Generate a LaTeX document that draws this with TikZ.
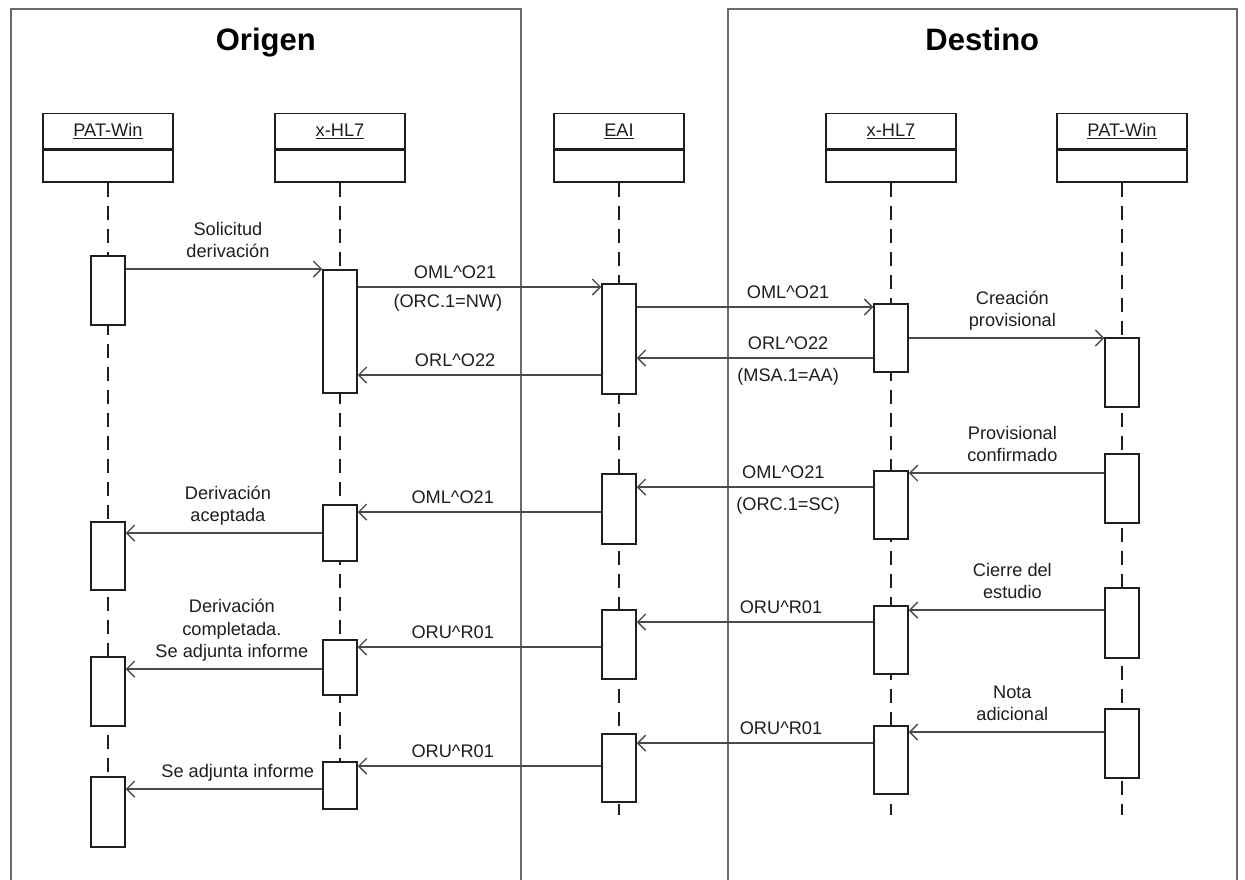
\documentclass[tikz,border=0pt]{standalone}
\usepackage{fontspec}
\setmainfont{Liberation Sans}
\usetikzlibrary{positioning,arrows.meta,backgrounds}
\definecolor{ink}{HTML}{1E1E1E}
\definecolor{wire}{HTML}{4A4A4A}
\definecolor{edge}{HTML}{6A6A6A}
\newcommand{\lbl}{\fontsize{18.2}{22.5}\selectfont}
\tikzset{
  zone/.style={draw=edge, line width=1.6pt, anchor=north west, inner sep=0pt, minimum height=900pt},
  ztitle/.style={font=\fontsize{31}{36}\selectfont\bfseries, text=black, anchor=base, inner sep=0pt},
  objtop/.style={draw=ink, line width=1.3pt, minimum width=130pt, minimum height=35pt, inner sep=0pt,
                 font=\lbl, text=ink, anchor=north},
  objbot/.style={draw=ink, line width=1.3pt, minimum width=130pt, minimum height=32pt, inner sep=0pt},
  act/.style={draw=ink, line width=1.5pt, fill=white, minimum width=34pt, inner sep=0pt, anchor=north},
  life/.style={draw=ink, line width=1.3pt, dash pattern=on 14pt off 9pt},
  msg/.style={draw=wire, line width=1.4pt, -{Straight Barb[length=8pt,width=16pt]}},
  txt/.style={font=\lbl, text=ink, align=center, inner sep=0pt, text depth=0pt},
}

\begin{document}
\begin{tikzpicture}[x=1pt,y=-1pt]
\useasboundingbox (0,0) rectangle (1245,879);
% frames
\node[zone, minimum width=510pt] (origen) at (10,8) {};
\node[zone, minimum width=509pt] (destino) at (727,8) {};
\node[ztitle] (torig) at ([yshift=-42pt]origen.north) {Origen};
\node[ztitle] (tdest) at ([yshift=-42pt]destino.north) {Destino};
% lifeline heads
\node[objtop] (opw) at (108,113) {\underline{PAT-Win}};
\node[objbot, below=0pt of opw] (opwb) {};
\node[objtop] (ohl) at (340,113) {\underline{x-HL7}};
\node[objbot, below=0pt of ohl] (ohlb) {};
\node[objtop] (eai) at (619,113) {\underline{EAI}};
\node[objbot, below=0pt of eai] (eaib) {};
\node[objtop] (dhl) at (891,113) {\underline{x-HL7}};
\node[objbot, below=0pt of dhl] (dhlb) {};
\node[objtop] (dpw) at (1122,113) {\underline{PAT-Win}};
\node[objbot, below=0pt of dpw] (dpwb) {};
% activations
\node[act, minimum height=69pt] (opw1) at (108,255) {};
\node[act, minimum height=68pt] (opw2) at (108,521) {};
\node[act, minimum height=69pt] (opw3) at (108,656) {};
\node[act, minimum height=70pt] (opw4) at (108,776) {};
\node[act, minimum height=123pt] (ohl1) at (340,269) {};
\node[act, minimum height=56pt] (ohl2) at (340,504) {};
\node[act, minimum height=55pt] (ohl3) at (340,639) {};
\node[act, minimum height=47pt] (ohl4) at (340,761) {};
\node[act, minimum height=110pt] (eai1) at (619,283) {};
\node[act, minimum height=70pt] (eai2) at (619,473) {};
\node[act, minimum height=69pt] (eai3) at (619,609) {};
\node[act, minimum height=68pt] (eai4) at (619,733) {};
\node[act, minimum height=68pt] (dhl1) at (891,303) {};
\node[act, minimum height=68pt] (dhl2) at (891,470) {};
\node[act, minimum height=68pt] (dhl3) at (891,605) {};
\node[act, minimum height=68pt] (dhl4) at (891,725) {};
\node[act, minimum height=69pt] (dpw1) at (1122,337) {};
\node[act, minimum height=69pt] (dpw2) at (1122,453) {};
\node[act, minimum height=70pt] (dpw3) at (1122,587) {};
\node[act, minimum height=69pt] (dpw4) at (1122,708) {};
\coordinate (eaiend) at (619,815);
\coordinate (dhlend) at (891,815);
\coordinate (dpwend) at (1122,815);
\begin{scope}[on background layer]
  \draw[life] (opwb.south) -- (opw4.south);
  \draw[life] (ohlb.south) -- (ohl4.south);
  \draw[life] (eaib.south) -- (eaiend);
  \draw[life] (dhlb.south) -- (dhlend);
  \draw[life] (dpwb.south) -- (dpwend);
\end{scope}
% request
\draw[msg] ([yshift=-14pt]opw1.north east) coordinate (m1) -- node[txt, above=10.5pt, pos=0.52] {Solicitud\\derivación} (m1 -| ohl1.west);
\draw[msg] ([yshift=-18pt]ohl1.north east) coordinate (m2) -- node[txt, above=8pt, pos=0.40] {OML\^{}O21}
   node[txt, below=7pt, pos=0.37] {(ORC.1=NW)} (m2 -| eai1.west);
\draw[msg] ([yshift=-24pt]eai1.north east) coordinate (m3) -- node[txt, above=8pt, pos=0.64] {OML\^{}O21} (m3 -| dhl1.west);
\draw[msg] ([yshift=-35pt]dhl1.north east) coordinate (m4) -- node[txt, above=10.5pt, pos=0.53] {Creación\\provisional} (m4 -| dpw1.west);
\draw[msg] ([yshift=-55pt]dhl1.north west) coordinate (m5) -- node[txt, above=8pt, pos=0.36] {ORL\^{}O22}
   node[txt, below=10pt, pos=0.36] {(MSA.1=AA)} (m5 -| eai1.east);
\draw[msg] ([yshift=-92pt]eai1.north west) coordinate (m6) -- node[txt, above=8pt, pos=0.60] {ORL\^{}O22} (m6 -| ohl1.east);
% confirmation
\draw[msg] ([yshift=-20pt]dpw2.north west) coordinate (m7) -- node[txt, above=10.5pt, pos=0.47] {Provisional\\confirmado} (m7 -| dhl2.east);
\draw[msg] ([yshift=-17pt]dhl2.north west) coordinate (m8) -- node[txt, above=8pt, pos=0.38] {OML\^{}O21}
   node[txt, below=10pt, pos=0.36] {(ORC.1=SC)} (m8 -| eai2.east);
\draw[msg] ([yshift=-39pt]eai2.north west) coordinate (m9) -- node[txt, above=8pt, pos=0.61] {OML\^{}O21} (m9 -| ohl2.east);
\draw[msg] ([yshift=-29pt]ohl2.north west) coordinate (m10) -- node[txt, above=10.5pt, pos=0.48] {Derivación\\aceptada} (m10 -| opw2.east);
% report
\draw[msg] ([yshift=-23pt]dpw3.north west) coordinate (m11) -- node[txt, above=10.5pt, pos=0.47] {Cierre del\\estudio} (m11 -| dhl3.east);
\draw[msg] ([yshift=-17pt]dhl3.north west) coordinate (m12) -- node[txt, above=8pt, pos=0.39] {ORU\^{}R01} (m12 -| eai3.east);
\draw[msg] ([yshift=-38pt]eai3.north west) coordinate (m13) -- node[txt, above=8pt, pos=0.61] {ORU\^{}R01} (m13 -| ohl3.east);
\draw[msg] ([yshift=-30pt]ohl3.north west) coordinate (m14) -- node[txt, above=10.5pt, pos=0.46] {Derivación\\completada.\\Se adjunta informe} (m14 -| opw3.east);
% addendum
\draw[msg] ([yshift=-24pt]dpw4.north west) coordinate (m15) -- node[txt, above=10.5pt, pos=0.47] {Nota\\adicional} (m15 -| dhl4.east);
\draw[msg] ([yshift=-18pt]dhl4.north west) coordinate (m16) -- node[txt, above=8pt, pos=0.39] {ORU\^{}R01} (m16 -| eai4.east);
\draw[msg] ([yshift=-33pt]eai4.north west) coordinate (m17) -- node[txt, above=8pt, pos=0.61] {ORU\^{}R01} (m17 -| ohl4.east);
\draw[msg] ([yshift=-28pt]ohl4.north west) coordinate (m18) -- node[txt, above=10.5pt, pos=0.43] {Se adjunta informe} (m18 -| opw4.east);
\end{tikzpicture}
\end{document}
